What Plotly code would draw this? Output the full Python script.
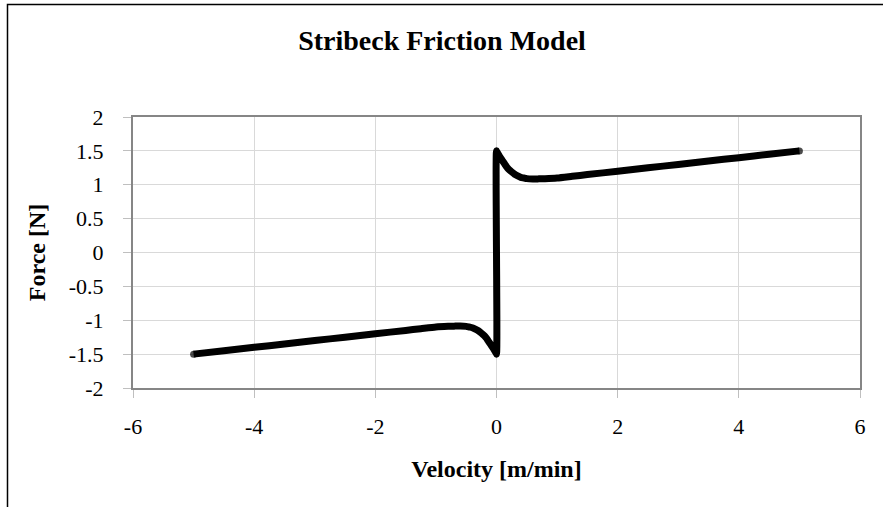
import plotly.graph_objects as go

# Stribeck friction curve: sliding velocity [m/min] vs. friction force [N]
velocity_neg = [-5.0, -4.5, -4.0, -3.5, -3.0, -2.5, -2.0, -1.5, -1.25, -1.0, -0.8, -0.7, -0.6,
                -0.5, -0.45, -0.4, -0.35, -0.3, -0.25, -0.2, -0.17, -0.14, -0.11, -0.08,
                -0.05, -0.03, -0.01, 0.0]
force_neg = [-1.50, -1.45, -1.40, -1.35, -1.30, -1.25, -1.20, -1.15, -1.125, -1.10, -1.09, -1.087, -1.085,
             -1.09, -1.10, -1.11, -1.13, -1.155, -1.19, -1.23, -1.26, -1.30, -1.34, -1.38,
             -1.42, -1.45, -1.48, -1.50]

velocity_pos = [0.0, 0.01, 0.03, 0.05, 0.08, 0.11, 0.14, 0.17, 0.2, 0.25, 0.3, 0.35, 0.4,
                0.45, 0.5, 0.6, 0.7, 0.8, 1.0, 1.25, 1.5, 2.0, 2.5, 3.0, 3.5, 4.0, 4.5, 5.0]
force_pos = [1.50, 1.48, 1.45, 1.42, 1.38, 1.34, 1.30, 1.26, 1.23, 1.19, 1.155, 1.13, 1.11,
             1.10, 1.09, 1.085, 1.087, 1.09, 1.10, 1.125, 1.15, 1.20, 1.25, 1.30, 1.35, 1.40, 1.45, 1.50]

x_tick_vals = [-6, -4, -2, 0, 2, 4, 6]
x_tick_text = ["-6", "-4", "-2", "0", "2", "4", "6"]
y_tick_vals = [-2, -1.5, -1, -0.5, 0, 0.5, 1, 1.5, 2]
y_tick_text = ["-2", "-1.5", "-1", "-0.5", "0", "0.5", "1", "1.5", "2"]

velocity = velocity_neg + velocity_pos
force = force_neg + force_pos

# round caps at both ends of the curve
end_sizes = [7 if i in (0, len(velocity) - 1) else 0 for i in range(len(velocity))]

SERIF = "Liberation Serif, Times New Roman, serif"
AXIS_GRAY = "#868686"
GRID_GRAY = "#d9d9d9"

W, H = 884, 508
M_L, M_R, M_T, M_B = 133, 24, 117, 120
PLOT_W = W - M_L - M_R
PLOT_H = H - M_T - M_B

fig = go.Figure()
fig.add_trace(go.Scatter(
    x=velocity, y=force, mode="lines+markers",
    line=dict(color="black", width=7, shape="spline", smoothing=0.6),
    marker=dict(color="black", size=end_sizes, line=dict(width=0)),
    hoverinfo="skip", showlegend=False,
))

axis_common = dict(
    showgrid=True, gridcolor=GRID_GRAY, gridwidth=1,
    showline=True, linecolor=AXIS_GRAY, linewidth=2, mirror=True,
    ticks="outside", ticklen=8, tickcolor="#bfbfbf", tickwidth=1,
    zeroline=False,
    tickfont=dict(family=SERIF, size=22, color="black"),
)

# chart-area frame: one open path along the left and top edges
frame_left = (7.5 - M_L) / PLOT_W
frame_right = (W - 1 - M_L) / PLOT_W
frame_top = 1 + (M_T - 4.5) / PLOT_H
frame_bottom = -(H - 1 - (M_T + PLOT_H)) / PLOT_H
frame_path = (f"M {frame_left:.5f},{frame_bottom:.5f} "
              f"L {frame_left:.5f},{frame_top:.5f} "
              f"L {frame_right:.5f},{frame_top:.5f}")

fig.update_layout(
    width=W, height=H,
    margin=dict(l=M_L, r=M_R, t=M_T, b=M_B),
    paper_bgcolor="white", plot_bgcolor="white",
    title=dict(text="<b>Stribeck Friction Model</b>", x=0.5, xanchor="center",
               y=1 - 40 / H, yanchor="middle",
               font=dict(family=SERIF, size=28, color="black")),
    xaxis=dict(range=[-6, 6], tickvals=x_tick_vals, ticktext=x_tick_text,
               ticklabelstandoff=10,
               title=dict(text="<b>Velocity [m/min]</b>", standoff=22,
                          font=dict(family=SERIF, size=24, color="black")),
               **axis_common),
    yaxis=dict(range=[-2, 2], tickvals=y_tick_vals, ticktext=y_tick_text,
               ticklabelstandoff=15,
               title=dict(text="<b>Force [N]</b>", standoff=16,
                          font=dict(family=SERIF, size=24, color="black")),
               **axis_common),
    shapes=[
        dict(type="path", xref="paper", yref="paper", path=frame_path,
             fillcolor="rgba(0,0,0,0)",
             line=dict(color="black", width=1.5), layer="below"),
    ],
)

fig.write_html("out.html")
